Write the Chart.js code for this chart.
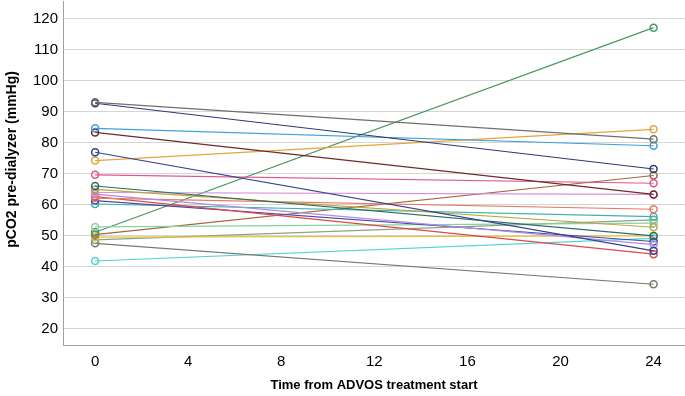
<!DOCTYPE html>
<html>
<head>
<meta charset="utf-8">
<script src="https://cdn.jsdelivr.net/npm/chart.js@4"></script>
<style>
  html, body { margin: 0; padding: 0; background: #fff; }
  #wrap { width: 685px; height: 396px; }
</style>
</head>
<body>
<div id="wrap"><canvas id="grafico"></canvas></div>
<script>
// time points (hours) and one pair of values per patient
const timePoints = [0, 24]
const xTicks = [0, 4, 8, 12, 16, 20, 24]
const yTicks = [20, 30, 40, 50, 60, 70, 80, 90, 100, 110, 120]

const startValues = [93.1, 92.8, 84.7, 83.4, 77.0, 74.3, 69.7, 66.1, 65.0, 64.0, 63.5, 62.2, 62.7, 61.4, 60.3, 52.9, 51.2, 50.4, 49.6, 48.7, 47.6, 41.9]
const endValues   = [81.2, 71.6, 79.1, 63.4, 45.2, 84.4, 67.0, 50.0, 52.8, 63.4, 47.2, 58.6, 44.1, 48.2, 56.2, 54.1, 117.2, 69.5, 50.0, 55.2, 34.4, 49.2]
const colors = ['#6f6f6f', '#2d3a78', '#3f9fdc', '#6e2b2b', '#34408f', '#e5a53c', '#e0568a', '#2f6a64',
                '#b8a83c', '#d58fd8', '#b08ae6', '#e8785e', '#e04848', '#4a4aa6', '#3ab3ae', '#86d3a4',
                '#4d9660', '#a3653c', '#e2c23e', '#8fa08a', '#7b7868', '#4fd3d6']

const yMin = 14.8, yMax = 125.8
const xMin = -1.38, xMax = 25.35

Chart.defaults.font.family = '"Liberation Sans", Arial, sans-serif'
Chart.defaults.color = '#000'

const datasets = startValues.map((v, i) => ({
    data: [{ x: timePoints[0], y: v }, { x: timePoints[1], y: endValues[i] }],
    borderColor: colors[i],
    pointBorderColor: colors[i],
    pointBackgroundColor: 'rgba(255,255,255,0)',
    borderWidth: 1.2,
    pointRadius: 3.5,
    pointBorderWidth: 1.5,
    tension: 0
}))

const config = {
    type: 'line',
    data: { datasets },
    options: {
        responsive: true,
        maintainAspectRatio: false,
        animation: false,
        layout: { autoPadding: false, padding: { top: 1, right: 0, left: 0, bottom: 0 } },
        plugins: { legend: { display: false }, tooltip: { enabled: false } },
        scales: {
            x: {
                type: 'linear',
                bounds: 'data',
                min: xMin,
                max: xMax,
                afterBuildTicks: s => {
                    s.ticks = xTicks.map(v => ({ value: v }))
                    s.min = xMin
                    s.max = xMax
                },
                afterFit: s => {
                    s.height = 51
                    s.paddingLeft = 0
                    s.paddingRight = 0
                },
                grid: { display: false, drawTicks: false },
                border: { display: true, color: '#a0a0a0', width: 1 },
                ticks: { font: { size: 15 }, padding: 8, maxRotation: 0 },
                title: {
                    display: true,
                    text: 'Time from ADVOS treatment start',
                    font: { size: 13, weight: 'bold' },
                    padding: { top: 0, bottom: 3 }
                }
            },
            y: {
                bounds: 'data',
                min: yMin,
                max: yMax,
                afterBuildTicks: s => {
                    s.ticks = yTicks.map(v => ({ value: v }))
                    s.min = yMin
                    s.max = yMax
                },
                afterFit: s => {
                    s.width = 63
                    s.paddingTop = 0
                    s.paddingBottom = 0
                },
                grid: { color: '#d6d6d6', lineWidth: 1, drawTicks: false },
                border: { display: true, color: '#a0a0a0', width: 1 },
                ticks: { font: { size: 15 }, padding: 5 },
                title: {
                    display: true,
                    // leading spaces nudge the rotated title upwards like the original
                    text: '       pCO2 pre-dialyzer (mmHg)',
                    font: { size: 14, weight: 'bold' },
                    padding: { top: 4, bottom: 0 }
                }
            }
        }
    }
}

const graph = new Chart(document.getElementById('grafico'), config)
</script>
</body>
</html>
